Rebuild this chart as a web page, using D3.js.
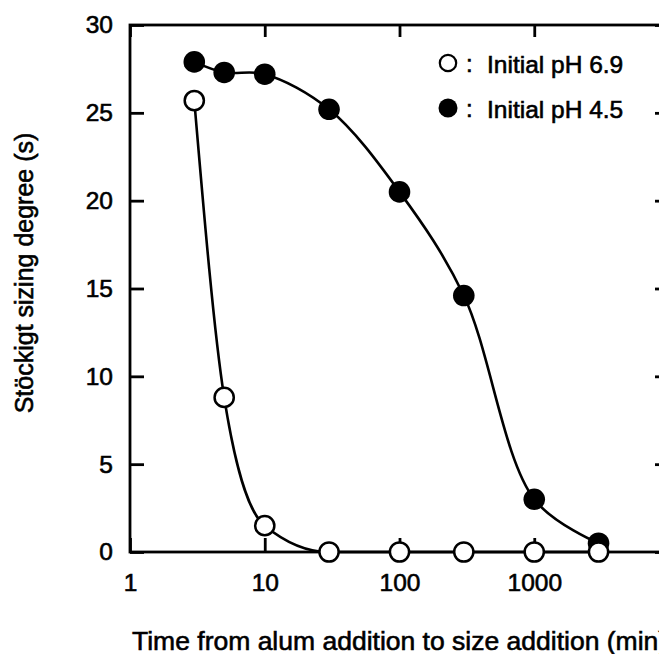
<!DOCTYPE html>
<html>
<head>
<meta charset="utf-8">
<script src="https://cdn.jsdelivr.net/npm/d3@7"></script>
<style>
  html, body { margin: 0; padding: 0; background: #fff; }
  svg { display: block; }
  text { font-family: "Liberation Sans", Arial, Helvetica, sans-serif; fill: #000; stroke: #000; stroke-width: 0.6px; }
</style>
</head>
<body>
<svg id="chart" width="659" height="654"></svg>
<script>
// Time from alum addition to size addition (min)
const times = [3, 5, 10, 30, 100, 300, 1000, 3000];
// Stöckigt sizing degree (s) for each initial pH
const sizingPH69 = [25.7, 8.8, 1.5, 0, 0, 0, 0, 0];
const sizingPH45 = [27.9, 27.3, 27.2, 25.2, 20.5, 14.6, 3.0, 0.5];
const xTicks = [1, 10, 100, 1000, 10000];
const xTickLabels = [1, 10, 100, 1000];
const yTicks = [0, 5, 10, 15, 20, 25, 30];
const legendLabels = ["Initial pH 6.9", "Initial pH 4.5"];

const svg = d3.select("#chart");
const plotLeft = 130, plotRight = 669, plotTop = 25, plotBottom = 552;

const x = d3.scaleLog().domain([1, 10000]).range([plotLeft, plotRight]);
const y = d3.scaleLinear().domain([0, 30]).range([plotBottom, plotTop]);

const lw = 2.8;

// axes with inward ticks
const gLeft = svg.append("g").attr("transform", `translate(${plotLeft},0)`)
  .call(d3.axisLeft(y).tickValues(yTicks).tickSizeInner(-14).tickSizeOuter(0).tickPadding(17).tickFormat(d3.format("d")));
const gBottom = svg.append("g").attr("transform", `translate(0,${plotBottom})`)
  .call(d3.axisBottom(x).tickValues(xTickLabels).tickSizeInner(-14).tickSizeOuter(0).tickPadding(22).tickFormat(d3.format("d")));
const gTop = svg.append("g").attr("transform", `translate(0,${plotTop})`)
  .call(d3.axisTop(x).tickValues(xTicks).tickSizeInner(-12).tickSizeOuter(0).tickFormat(""));
const gRight = svg.append("g").attr("transform", `translate(${plotRight},0)`)
  .call(d3.axisRight(y).tickValues(yTicks).tickSizeInner(-14).tickSizeOuter(0).tickFormat(""));

[gLeft, gBottom, gTop, gRight].forEach(g => {
  g.select(".domain").remove();
  g.selectAll(".tick line").attr("stroke", "#000").attr("stroke-width", lw);
  g.selectAll(".tick text").attr("font-size", 24.5)
    .style("font-family", "'Liberation Sans', Arial, sans-serif")
    .attr("fill", "#000").attr("stroke", "#000").attr("stroke-width", 0.6);
});

// frame
svg.append("rect")
  .attr("x", plotLeft).attr("y", plotTop)
  .attr("width", plotRight - plotLeft).attr("height", plotBottom - plotTop)
  .attr("fill", "none").attr("stroke", "#000").attr("stroke-width", lw);

// fitted curves
const lineOpen = d3.line()
  .x(d => x(d[0]))
  .y(d => y(d[1]))
  .curve(d3.curveMonotoneX);
const lineFilled = d3.line()
  .x(d => x(d[0]))
  .y(d => y(d[1]))
  .curve(d3.curveCatmullRom.alpha(0.5));

const ptsA = times.map((t, i) => [t, sizingPH69[i]]);
const ptsB = times.map((t, i) => [t, sizingPH45[i]]);

svg.append("path").datum(ptsB).attr("d", lineFilled)
  .attr("fill", "none").attr("stroke", "#000").attr("stroke-width", 2.6);
svg.append("path").datum(ptsA).attr("d", lineOpen)
  .attr("fill", "none").attr("stroke", "#000").attr("stroke-width", 2.6);

// markers: filled first, open on top
svg.append("g").selectAll("circle").data(ptsB).join("circle")
  .attr("cx", d => x(d[0])).attr("cy", d => y(d[1]))
  .attr("r", 10.8).attr("fill", "#000");
svg.append("g").selectAll("circle").data(ptsA).join("circle")
  .attr("cx", d => x(d[0])).attr("cy", d => y(d[1]))
  .attr("r", 9.6).attr("fill", "#fff").attr("stroke", "#000").attr("stroke-width", 2.5);

// legend
const legend = svg.append("g");
const rows = [
  { label: legendLabels[0], filled: false, cy: 63 },
  { label: legendLabels[1], filled: true, cy: 108 }
];
rows.forEach(r => {
  legend.append("circle")
    .attr("cx", 448).attr("cy", r.cy)
    .attr("r", r.filled ? 9.5 : 8.2)
    .attr("fill", r.filled ? "#000" : "#fff")
    .attr("stroke", r.filled ? "none" : "#000")
    .attr("stroke-width", 2.2);
  legend.append("text")
    .attr("x", 466).attr("y", r.cy + 9)
    .attr("font-size", 24).text(":");
  legend.append("text")
    .attr("x", 487).attr("y", r.cy + 9.5)
    .attr("font-size", 24.5).text(r.label);
});

// axis titles
svg.append("text")
  .attr("transform", "rotate(-90)")
  .attr("x", -273).attr("y", 33)
  .attr("text-anchor", "middle")
  .attr("font-size", 25)
  .text("Stöckigt sizing degree (s)");

svg.append("text")
  .attr("x", 132).attr("y", 650)
  .attr("font-size", 26.5)
  .text("Time from alum addition to size addition (min)");
</script>
</body>
</html>
